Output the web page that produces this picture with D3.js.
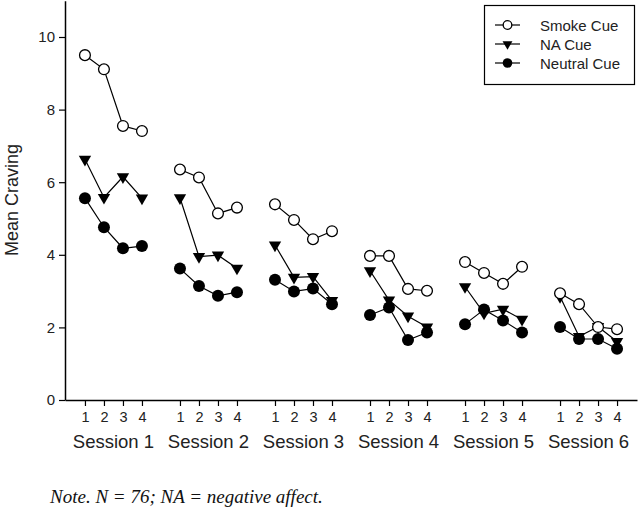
<!DOCTYPE html>
<html><head><meta charset="utf-8">
<script src="https://cdn.jsdelivr.net/npm/d3@7"></script>
<style>body{margin:0;background:#fff}svg{display:block}</style>
</head><body><svg id="c" width="640" height="508"></svg>
<script>
const sessions = ["Session 1","Session 2","Session 3","Session 4","Session 5","Session 6"];
const trials = ["1","2","3","4"];
const yTicks = [0,2,4,6,8,10];
const smokeCue = [
  [9.50,9.11,7.55,7.41],[6.35,6.13,5.14,5.30],[5.39,4.96,4.43,4.65],
  [3.97,3.97,3.06,3.01],[3.80,3.50,3.20,3.67],[2.94,2.64,2.01,1.95]];
const naCue = [
  [6.63,5.58,6.15,5.56],[5.57,3.95,3.99,3.63],[4.27,3.38,3.40,2.74],
  [3.56,2.75,2.31,2.01],[3.12,2.39,2.50,2.22],[2.85,1.75,2.02,1.61]];
const neutralCue = [
  [5.56,4.76,4.18,4.24],[3.62,3.14,2.87,2.97],[3.31,2.99,3.07,2.64],
  [2.34,2.55,1.65,1.86],[2.09,2.49,2.19,1.86],[2.01,1.68,1.68,1.41]];
const seriesNames = ["Smoke Cue","NA Cue","Neutral Cue"];

const svg = d3.select("#c");
const font = "Arial, 'Liberation Sans', sans-serif";
const x = d3.scaleLinear().domain([-1.05, 29.05]).range([65, 637]);
const y = d3.scaleLinear().domain([0, 11]).range([400, 0.7]);
const pos = (s, p) => s * 5 + p;

// axes
const yAxis = svg.append("g").attr("transform","translate(65,0)")
  .call(d3.axisLeft(y).tickValues(yTicks).tickSize(6).tickSizeOuter(0).tickPadding(4));
yAxis.select(".domain").attr("stroke","#000").attr("stroke-width",1.5);
yAxis.selectAll(".tick line").attr("stroke","#000").attr("stroke-width",1.2);
yAxis.selectAll(".tick text").attr("font-family",font).attr("font-size",15).attr("fill","#222");

const xVals = [];
sessions.forEach((s,i)=>trials.forEach((t,j)=>xVals.push(pos(i,j))));
const xAxis = svg.append("g").attr("transform","translate(0,400)")
  .call(d3.axisBottom(x).tickValues(xVals).tickSize(6).tickSizeOuter(0).tickPadding(6)
    .tickFormat(v => trials[v % 5]));
xAxis.select(".domain").attr("stroke","#000").attr("stroke-width",1.5);
xAxis.selectAll(".tick line").attr("stroke","#000").attr("stroke-width",1.2);
xAxis.selectAll(".tick text").attr("font-family",font).attr("font-size",14.5).attr("fill","#222");

svg.append("g").selectAll("text").data(sessions).join("text")
  .attr("x",(d,i)=>x(pos(i,1.5))).attr("y",448)
  .attr("text-anchor","middle").attr("font-family",font).attr("font-size",18.5).attr("fill","#222")
  .text(d=>d);

svg.append("text").attr("transform","translate(18,200) rotate(-90)")
  .attr("text-anchor","middle").attr("font-family",font).attr("font-size",18).attr("fill","#222")
  .text("Mean Craving");

svg.append("text").attr("x",50).attr("y",503)
  .attr("font-family","'Liberation Serif','Times New Roman',serif").attr("font-style","italic")
  .attr("font-size",19).attr("fill","#111")
  .text("Note. N = 76; NA = negative affect.");

// markers
function marker(g, kind, cx, cy, sc) {
  sc = sc || 1;
  if (kind === 0) g.append("circle").attr("cx",cx).attr("cy",cy).attr("r",5.4*sc)
    .attr("fill","#fff").attr("stroke","#000").attr("stroke-width",1.3);
  else if (kind === 1) g.append("path").attr("d",d3.symbol().type(d3.symbolTriangle).size(66*sc*sc)())
    .attr("transform",`translate(${cx},${cy}) rotate(180)`).attr("fill","#000");
  else g.append("circle").attr("cx",cx).attr("cy",cy).attr("r",6*sc).attr("fill","#000");
}

const line = d3.line().x(d=>x(d[0])).y(d=>y(d[1]));
const allSeries = [smokeCue, naCue, neutralCue];
const order = [2,1,0];
order.forEach(k => {
  const g = svg.append("g");
  allSeries[k].forEach((vals, s) => {
    const pts = vals.map((v,p)=>[pos(s,p), v]);
    g.append("path").attr("d", line(pts)).attr("fill","none").attr("stroke","#000").attr("stroke-width",1.2);
  });
});
order.forEach(k => {
  const g = svg.append("g");
  allSeries[k].forEach((vals, s) => vals.forEach((v,p)=>marker(g, k, x(pos(s,p)), y(v))));
});

// legend
const lg = svg.append("g");
lg.append("rect").attr("x",484.5).attr("y",5.5).attr("width",150).attr("height",79)
  .attr("fill","#fff").attr("stroke","#000").attr("stroke-width",1.2);
seriesNames.forEach((n,i)=>{
  const yy = 25 + i*19;
  lg.append("line").attr("x1",495).attr("x2",520).attr("y1",yy).attr("y2",yy).attr("stroke","#000").attr("stroke-width",1.2);
  marker(lg, i, 507.5, yy, 0.8);
  lg.append("text").attr("x",540).attr("y",yy+5.5).attr("font-family",font).attr("font-size",15).attr("fill","#222").text(n);
});
</script></body></html>
